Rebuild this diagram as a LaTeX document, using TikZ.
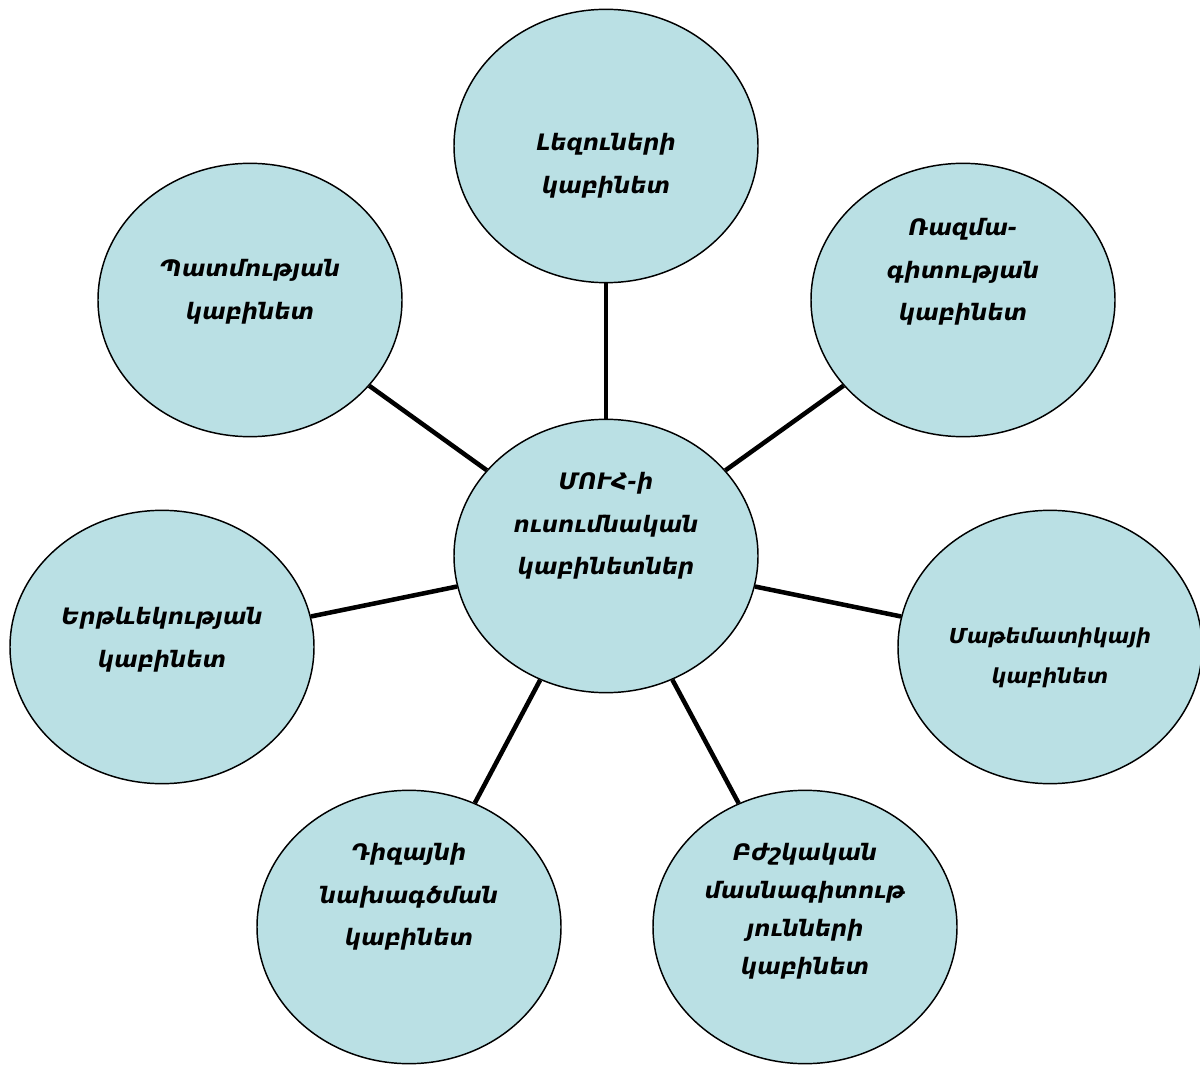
\documentclass[tikz,border=0pt]{standalone}
\usepackage{fontspec}
\newfontfamily\armfont{DejaVu Sans}
\usetikzlibrary{shapes.geometric}
\definecolor{cabfill}{RGB}{186,224,228}
\tikzset{
  cab/.style={ellipse, draw=black, line width=1.1pt, fill=cabfill,
    minimum width=228pt, minimum height=205pt, inner sep=0pt},
  lbl/.style={align=center, font=\armfont\bfseries\itshape\fontsize{17}{32}\selectfont},
  link/.style={line width=3.4pt}
}
\begin{document}
\begin{tikzpicture}[x=0.75pt,y=-0.75pt]
\useasboundingbox (0,0) rectangle (1200,1066);
\node[cab] (c)  at (606,556) {};
\node[cab] (t)  at (606,146) {};
\node[cab] (ul) at (250,300) {};
\node[cab] (ur) at (963,300) {};
\node[cab] (l)  at (162,647) {};
\node[cab] (r)  at (1050,647) {};
\node[cab] (bl) at (409,927) {};
\node[cab] (br) at (805,927) {};
\draw[link] (t) -- (c);
\draw[link] (ul) -- (c);
\draw[link] (ur) -- (c);
\draw[link] (l) -- (c);
\draw[link] (r) -- (c);
\draw[link] (bl) -- (c);
\draw[link] (br) -- (c);
\node[lbl] (tc)  at (606,526) {ՄՈՒՀ-ի\\ուսումնական\\կաբինետներ};
\node[lbl] (tt)  at (606,166) {Լեզուների\\կաբինետ};
\node[lbl] (tul) at (250,292) {Պատմության\\կաբինետ};
\node[lbl] (tur) at (963,272) {Ռազմա-\\գիտության\\կաբինետ};
\node[lbl] (tl)  at (162,640) {Երթևեկության\\կաբինետ};
\node[lbl, font=\armfont\bfseries\itshape\fontsize{15.5}{30}\selectfont] (tr) at (1050,658) {Մաթեմատիկայի\\կաբինետ};
\node[lbl] (tbl) at (409,897) {Դիզայնի\\նախագծման\\կաբինետ};
\node[lbl, font=\armfont\bfseries\itshape\fontsize{17}{28.5}\selectfont] (tbr) at (805,911) {Բժշկական\\մասնագիտութ\\յունների\\կաբինետ};
\end{tikzpicture}
\end{document}
